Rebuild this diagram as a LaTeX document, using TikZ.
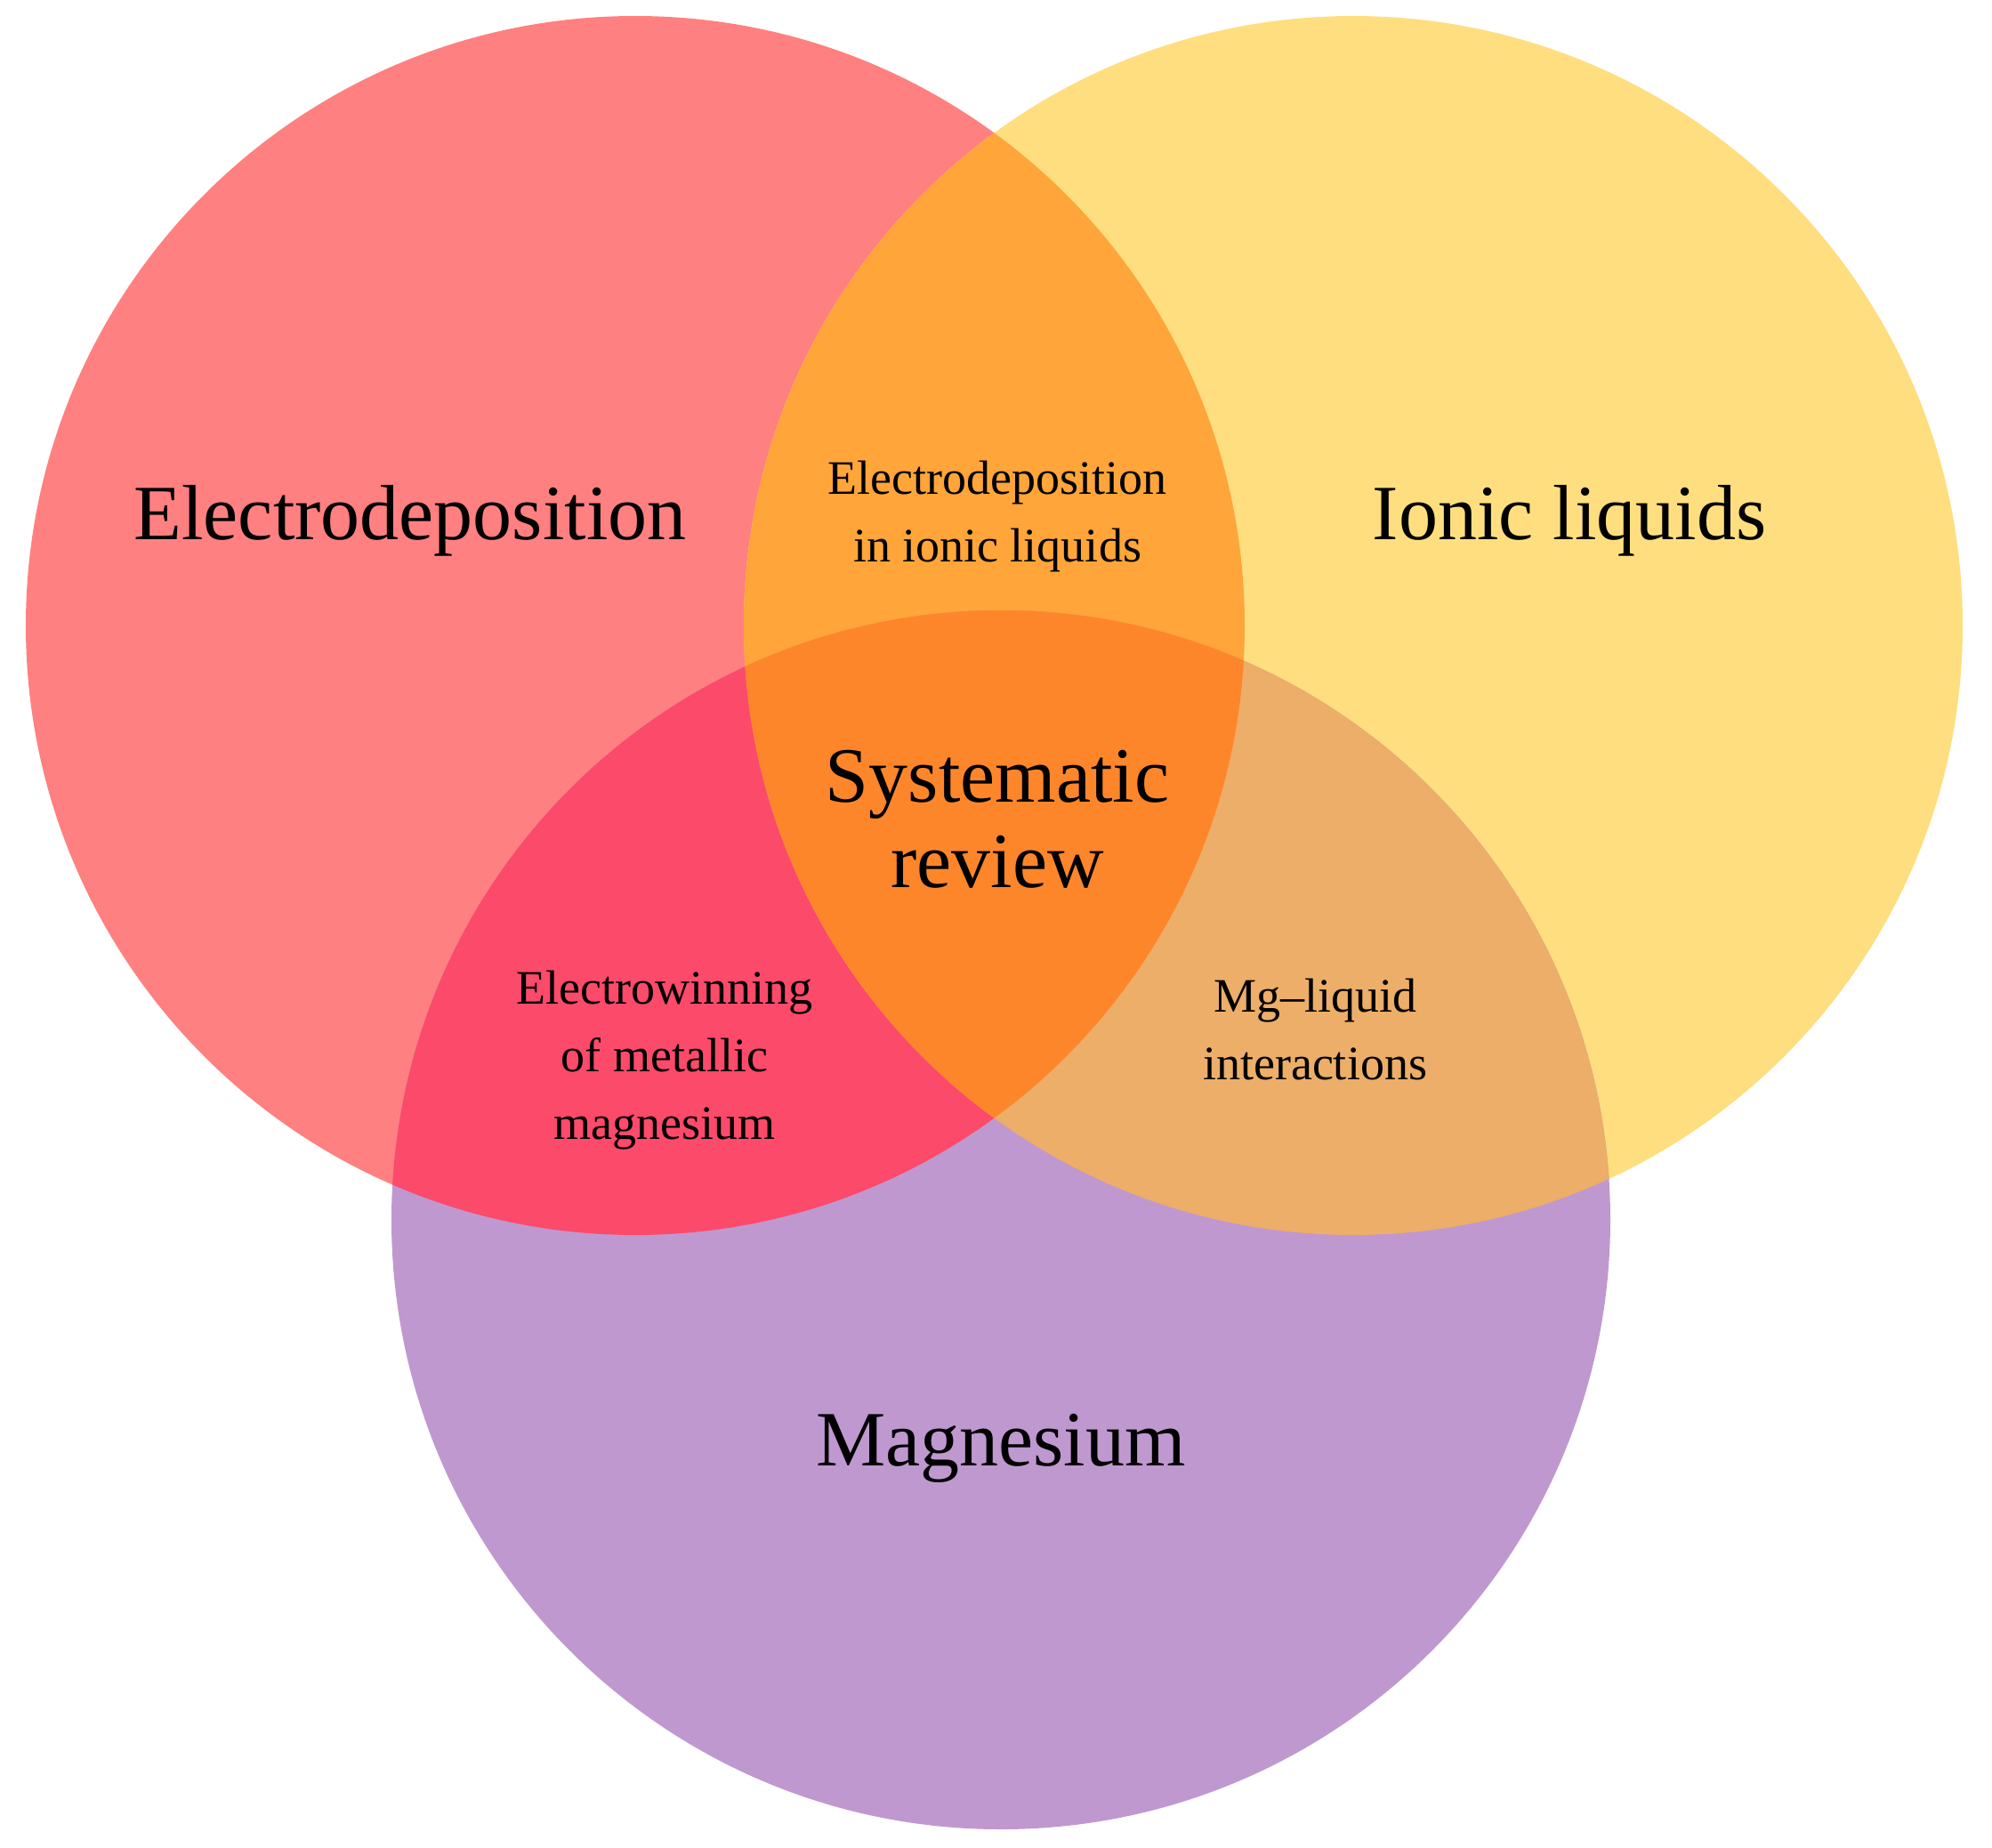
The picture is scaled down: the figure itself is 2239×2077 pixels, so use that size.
\documentclass[tikz,border=0pt]{standalone}
\usepackage{fontspec}
\setmainfont{Liberation Serif}
\begin{document}
\begin{tikzpicture}[x=1pt,y=-1pt,
 big/.style={font=\fontsize{88}{96}\selectfont,align=center},
 mid/.style={font=\fontsize{60}{78}\selectfont,align=center},
 sm/.style={font=\fontsize{54}{76}\selectfont,align=center}]
\definecolor{cR}{RGB}{255,128,128}
\definecolor{cY}{RGB}{255,222,128}
\definecolor{cP}{RGB}{192,152,208}
\definecolor{cRY}{RGB}{255,165,58}
\definecolor{cRP}{RGB}{252,74,106}
\definecolor{cYP}{RGB}{236,174,104}
\definecolor{cRYP}{RGB}{254,134,42}
\useasboundingbox (0,0) rectangle (2239,2077);
\def\R{(714,703) circle[radius=685]}
\def\Y{(1521,703) circle[radius=685]}
\def\P{(1125,1371) circle[radius=685]}
\fill[cR] \R; \fill[cY] \Y; \fill[cP] \P;
\begin{scope}\clip \R; \fill[cRY] \Y; \fill[cRP] \P; \end{scope}
\begin{scope}\clip \Y; \fill[cYP] \P; \end{scope}
\begin{scope}\clip \R; \clip \Y; \fill[cRYP] \P; \end{scope}
\node[big] (ed) at (461,585) {Electrodeposition};
\node[big] (il) at (1764,585) {Ionic liquids};
\node[big] (mg) at (1125,1628) {Magnesium};
\node[big] (sr) at (1121,921) {Systematic\\review};
\node[sm] (edil) at (1121,581) {Electrodeposition\\in ionic liquids};
\node[sm] (ew) at (747,1192) {Electrowinning\\of metallic\\magnesium};
\node[sm] (mgl) at (1478,1157) {Mg--liquid\\interactions};
\end{tikzpicture}
\end{document}
